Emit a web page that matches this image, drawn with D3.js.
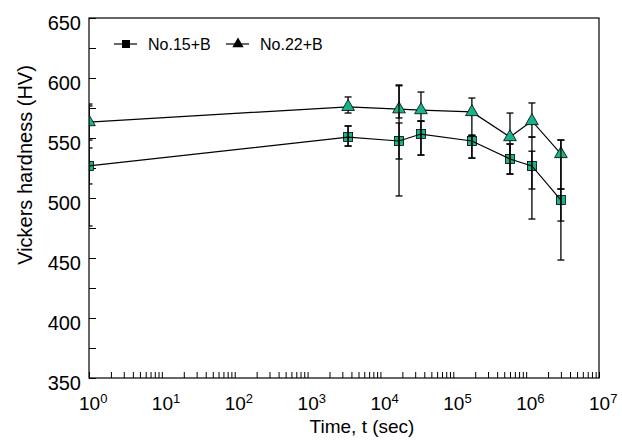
<!DOCTYPE html>
<html>
<head>
<meta charset="utf-8">
<script src="https://cdn.jsdelivr.net/npm/d3@7"></script>
<style>
  body { margin: 0; background: #fff; }
  svg { display: block; font-family: "Liberation Sans", Arial, sans-serif; }
</style>
</head>
<body>
<div class="chart"></div>
<script>
// time (sec) and hardness readings
const times = [1, 3600, 18000, 36000, 180000, 600000, 1.2e6, 3.0e6];

const hv15 = [526.7, 550.8, 547.5, 553.3, 547.5, 532.5, 526.7, 498.3];
const hv15Lo = [476.7, 543.3, 501.7, 535.8, 533.3, 520.0, 482.5, 448.3];
const hv15Hi = [576.7, 560.0, 593.5, 564.0, 552.0, 545.0, 550.8, 548.3];
const hv15InLo = [511.7, 543.3, 532.5, 535.8, 533.3, 520.0, 507.5, 480.8];
const hv15InHi = [541.7, 560.0, 562.5, 564.0, 552.0, 545.0, 539.0, 507.5];

const hv22 = [563.3, 576.0, 574.0, 573.3, 571.7, 550.8, 564.2, 536.7];
const hv22Lo = [548.3, 570.8, 566.7, 564.2, 552.5, 531.0, 550.8, 507.5];
const hv22Hi = [578.3, 584.2, 594.2, 588.3, 583.3, 570.8, 579.2, 548.3];

const seriesNames = ["No.15+B", "No.22+B"];
const yTicks = d3.range(350, 651, 25);
const decades = [0, 1, 2, 3, 4, 5, 6, 7];

const w = 622, h = 440;
const margin = {top: 18, right: 23, bottom: 62, left: 89};
const fill = "#17b38a";

const x = d3.scaleLog().domain([1, 1e7]).range([margin.left, w - margin.right]);
const y = d3.scaleLinear().domain([350, 650]).range([h - margin.bottom, margin.top]);

const svg = d3.select(".chart").append("svg")
  .attr("width", w).attr("height", h);

svg.append("defs").append("clipPath").attr("id", "plot")
  .append("rect")
  .attr("x", margin.left).attr("y", margin.top - 10)
  .attr("width", w - margin.left - margin.right)
  .attr("height", h - margin.top - margin.bottom + 10);

// minor + major log ticks, all pointing inward
const xTickVals = [];
decades.slice(0, -1).forEach(k => {
  for (let m = 1; m < 10; m++) xTickVals.push(m * Math.pow(10, k));
});
xTickVals.push(1e7);

const xAxis = svg.append("g")
  .attr("transform", `translate(0,${h - margin.bottom})`)
  .call(d3.axisBottom(x).tickValues(xTickVals).tickSize(-6).tickFormat(""));
xAxis.select(".domain").remove();
xAxis.selectAll(".tick line").attr("stroke", "#000").attr("stroke-width", 1);

const xLab = svg.append("g")
  .selectAll("text")
  .data(decades)
  .join("text")
  .attr("x", d => x(Math.pow(10, d)) - 10)
  .attr("y", h - margin.bottom + 32)
  .attr("font-size", 19)
  .attr("fill", "#000");
xLab.append("tspan").text("10");
xLab.append("tspan").attr("font-size", 13).attr("dy", -7).text(d => d);

const yAxis = svg.append("g")
  .attr("transform", `translate(${margin.left},0)`)
  .call(d3.axisLeft(y).tickValues(yTicks).tickSize(-7).tickPadding(8)
    .tickFormat(d => d % 50 === 0 ? d : ""));
yAxis.select(".domain").remove();
yAxis.selectAll(".tick line").attr("stroke", "#000").attr("stroke-width", 1);
yAxis.selectAll(".tick text")
  .attr("font-size", 20)
  .attr("font-family", "Liberation Sans, Arial, sans-serif")
  .attr("fill", "#000")
  .attr("dy", "0.55em");

// frame
svg.append("rect")
  .attr("x", margin.left).attr("y", margin.top)
  .attr("width", w - margin.left - margin.right)
  .attr("height", h - margin.top - margin.bottom)
  .attr("fill", "none").attr("stroke", "#000").attr("stroke-width", 1.2);

// titles
svg.append("text")
  .attr("x", 362).attr("y", 433)
  .attr("text-anchor", "middle").attr("font-size", 19)
  .text("Time, t (sec)");
svg.append("text")
  .attr("transform", "translate(32,165) rotate(-90)")
  .attr("text-anchor", "middle").attr("font-size", 20)
  .text("Vickers hardness (HV)");

const plot = svg.append("g").attr("clip-path", "url(#plot)");

const line = d3.line().x(d => x(d[0])).y(d => y(d[1]));
const tri = d3.symbol().type(d3.symbolTriangle).size(70);

const errBars = (g, lo, hi) => {
  times.forEach((t, i) => {
    const cx = x(t);
    g.append("line")
      .attr("x1", cx).attr("x2", cx)
      .attr("y1", y(lo[i])).attr("y2", y(hi[i]))
      .attr("stroke", "#000").attr("stroke-width", 1.3);
    [lo[i], hi[i]].forEach(v => {
      g.append("line")
        .attr("x1", cx - 3.5).attr("x2", cx + 3.5)
        .attr("y1", y(v)).attr("y2", y(v))
        .attr("stroke", "#000").attr("stroke-width", 1.3);
    });
  });
};

// No.22+B (triangles)
errBars(plot.append("g"), hv22Lo, hv22Hi);
plot.append("path")
  .attr("d", line(times.map((t, i) => [t, hv22[i]])))
  .attr("fill", "none").attr("stroke", "#000").attr("stroke-width", 1.2);
plot.append("g").selectAll("path")
  .data(times.map((t, i) => [t, hv22[i]]))
  .join("path")
  .attr("d", tri)
  .attr("transform", d => `translate(${x(d[0])},${y(d[1])})`)
  .attr("fill", fill).attr("stroke", "#000").attr("stroke-width", 0.8);

// No.15+B (squares), line and bars sit on top of the markers
plot.append("g").selectAll("rect")
  .data(times.map((t, i) => [t, hv15[i]]))
  .join("rect")
  .attr("x", d => x(d[0]) - 4.5).attr("y", d => y(d[1]) - 4.5)
  .attr("width", 9).attr("height", 9)
  .attr("fill", fill).attr("stroke", "#000").attr("stroke-width", 0.8);
plot.append("path")
  .attr("d", line(times.map((t, i) => [t, hv15[i]])))
  .attr("fill", "none").attr("stroke", "#000").attr("stroke-width", 1.2);
errBars(plot.append("g"), hv15Lo, hv15Hi);
errBars(plot.append("g"), hv15InLo, hv15InHi);

// legend
const legend = svg.append("g");
const lg = [{name: seriesNames[0], x0: 114}, {name: seriesNames[1], x0: 226}];
lg.forEach((d, i) => {
  legend.append("line")
    .attr("x1", d.x0).attr("x2", d.x0 + 23)
    .attr("y1", 44).attr("y2", 44)
    .attr("stroke", "#000").attr("stroke-width", 1.2);
  if (i === 0) {
    legend.append("rect")
      .attr("x", d.x0 + 8).attr("y", 40).attr("width", 8).attr("height", 8)
      .attr("fill", "#000");
  } else {
    legend.append("path")
      .attr("d", d3.symbol().type(d3.symbolTriangle).size(55)())
      .attr("transform", `translate(${d.x0 + 12},44)`)
      .attr("fill", "#000");
  }
  legend.append("text")
    .attr("x", d.x0 + 34).attr("y", 50)
    .attr("font-size", 16)
    .text(d.name);
});
</script>
</body>
</html>
